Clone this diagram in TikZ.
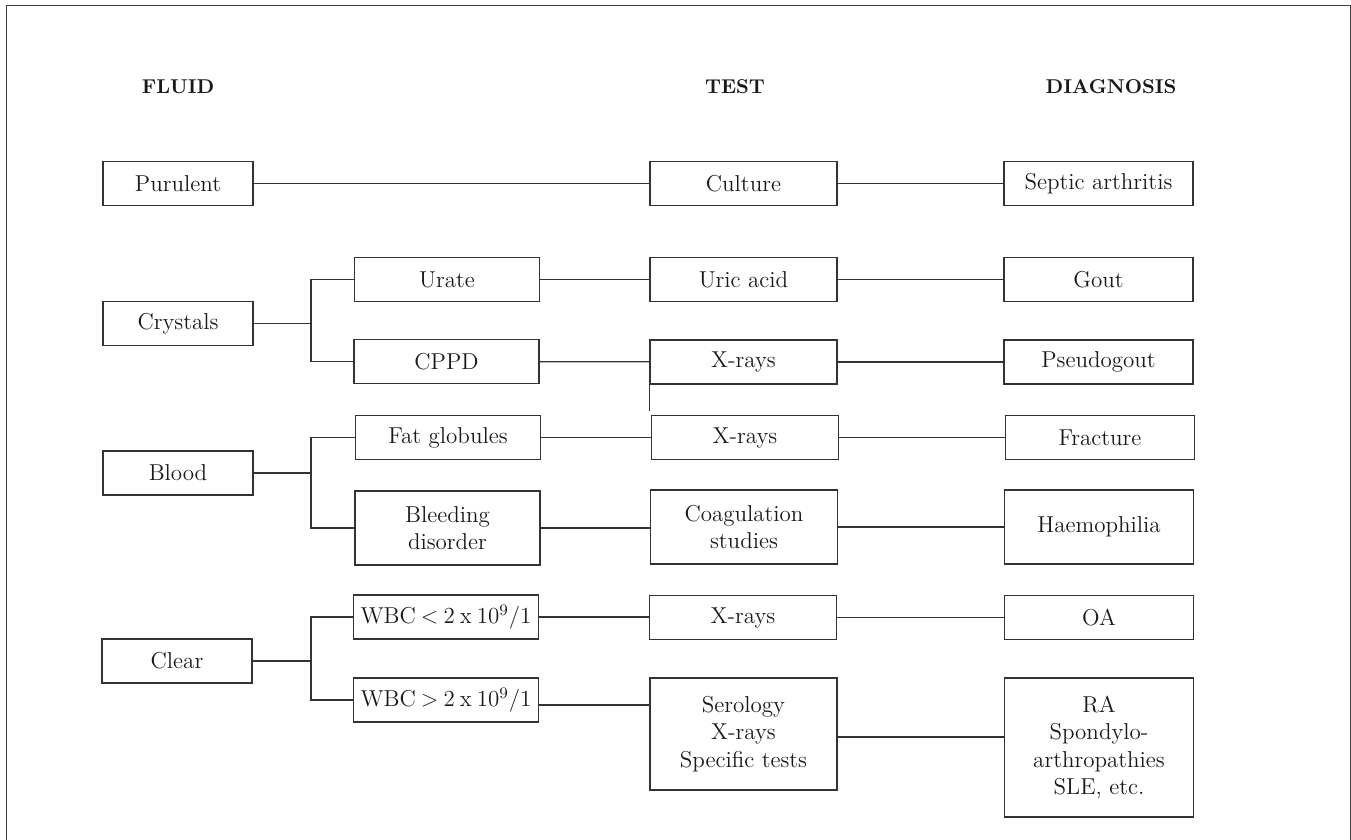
\documentclass[tikz,border=0pt]{standalone}
\usepackage{tikz}
\usepackage{xcolor}

\begin{document}
\begin{tikzpicture}[x=0.5pt, y=-0.5pt,
	box/.style = {draw=black!80, line width=0.6pt, inner sep=0pt, align=center, text=black!90,
		font=\fontsize{11.5}{13.8}\selectfont},
	fluidbox/.style = {box, minimum width=75pt, minimum height=22pt},
	findbox/.style = {box, minimum width=92.5pt, minimum height=22pt},
	testbox/.style = {box, minimum width=93.5pt, minimum height=22pt},
	diagbox/.style = {box, minimum width=94.5pt, minimum height=22pt},
	head/.style = {font=\fontsize{10}{12}\selectfont\bfseries, text=black!90},
	link/.style = {draw=black!80, line width=0.6pt}]
	\useasboundingbox (0,0) rectangle (1351,840);
	\draw [draw=black!75, line width=0.5pt] (6,840) -- (6,6) -- (1350,6) -- (1350,840);

	\node [head] (hfluid) at (178,87) {FLUID};
	\node [head] (htest) at (735,87) {TEST};
	\node [head] (hdiag) at (1111,87) {DIAGNOSIS};

	% fluid
	\node [fluidbox] (purulent) at (178,183.5) {Purulent};
	\node [fluidbox] (crystals) at (178,323.5) {Crystals};
	\node [fluidbox] (blood) at (178,473) {Blood};
	\node [fluidbox] (clear) at (177,661) {Clear};

	% findings
	\node [findbox] (urate) at (447,279.5) {Urate};
	\node [findbox] (cppd) at (446.5,361.5) {CPPD};
	\node [findbox] (fat) at (448,437.5) {Fat globules};
	\node [findbox, minimum height=37pt] (bleeding) at (447.5,528) {Bleeding\\disorder};
	\node [findbox] (wbclt) at (446,617) {{\spaceskip=0.22em WBC < 2 x 10\textsuperscript{9}/1}};
	\node [findbox] (wbcgt) at (446,700) {{\spaceskip=0.22em WBC > 2 x 10\textsuperscript{9}/1}};

	% tests
	\node [testbox] (culture) at (743.5,183.5) {Culture};
	\node [testbox] (uric) at (743.5,279.5) {Uric acid};
	\node [testbox] (xraya) at (743.5,362) {X-rays};
	\node [testbox] (xrayb) at (745,437.5) {X-rays};
	\node [testbox, minimum height=37pt] (coag) at (744,527) {Coagulation\\studies};
	\node [testbox] (xrayc) at (743,617.5) {X-rays};
	\node [testbox, minimum height=56pt] (serology) at (743.5,734) {Serology\\X-rays\\Specific tests};

	% diagnoses
	\node [diagbox] (septic) at (1098.5,183.5) {Septic arthritis};
	\node [diagbox] (gout) at (1098.5,279.5) {Gout};
	\node [diagbox] (pseudo) at (1098.5,362) {Pseudogout};
	\node [diagbox] (fracture) at (1100,437.5) {Fracture};
	\node [diagbox, minimum height=37pt] (haemo) at (1099,527) {Haemophilia};
	\node [diagbox] (oa) at (1099,617.5) {OA};
	\node [diagbox, minimum height=69.5pt] (ra) at (1099,747.5) {RA\\Spondylo-\\arthropathies\\SLE, etc.};

	% branches
	\coordinate (crysfork) at (311,323.5);
	\coordinate (bloodfork) at (311,473);
	\coordinate (clearfork) at (311,661);
	\draw [link] (crystals) -- (crysfork) |- (urate);
	\draw [link] (crysfork) |- (cppd);
	\draw [link] (blood) -- (bloodfork) |- (fat);
	\draw [link] (bloodfork) |- (bleeding);
	\draw [link] (clear) -- (clearfork) |- (wbclt);
	\draw [link] (clearfork) |- (wbcgt.west);

	\draw [link] (purulent) -- (culture);
	\draw [link] (culture) -- (septic);
	\draw [link] (urate) -- (uric);
	\draw [link] (uric) -- (gout);
	\draw [link] (cppd) -- (xraya);
	\draw [link] (xraya) -- (pseudo);
	\draw [link] (xraya.south west) -- ++(0,26);
	\draw [link] (fat) -- (fat -| xrayb.west);
	\draw [link] (xrayb) -- (fracture);
	\draw [link] (bleeding) -- (bleeding -| coag.west);
	\draw [link] (coag) -- (coag -| haemo.west);
	\draw [link] (wbclt) -- (wbclt -| xrayc.west);
	\draw [link] (xrayc) -- (xrayc -| oa.west);
	\draw [link] ([yshift=-2.5pt]wbcgt.east) -- ([yshift=-2.5pt]wbcgt.east -| serology.west);
	\draw [link] ([yshift=-1.5pt]serology.east) -- ([yshift=-1.5pt]serology.east -| ra.west);
\end{tikzpicture}
\end{document}
